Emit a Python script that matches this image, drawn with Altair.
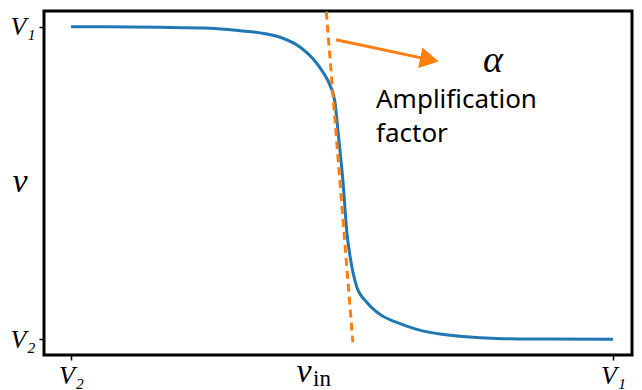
import altair as alt
import pandas as pd

# --- data (x: V2 -> 0, V1 -> 1; y: V2 -> 0, V1 -> 1) ---
curve_x = [0.0, 0.164, 0.256, 0.312, 0.349, 0.386, 0.423, 0.446, 0.465, 0.478,
           0.487, 0.493, 0.502, 0.509, 0.515, 0.527, 0.546, 0.570, 0.601, 0.638,
           0.699, 0.723, 0.786, 0.878, 1.0]
curve_y = [1.0, 0.998, 0.995, 0.987, 0.980, 0.966, 0.934, 0.898, 0.854, 0.812,
           0.758, 0.659, 0.500, 0.341, 0.264, 0.169, 0.118, 0.080, 0.054, 0.032,
           0.013, 0.009, 0.003, 0.001, 0.0]

tangent_x = [0.471, 0.520]
tangent_y = [1.048, -0.0096]

arrow_x = [0.489]
arrow_y = [0.958]
arrow_x2 = [0.6614]
arrow_y2 = [0.8946]
arrow_angle = [12]

alpha_x = [0.7786]
alpha_y = [0.8917]
alpha_text = ["α"]

note_x = [0.5627, 0.5627]
note_y = [0.7389, 0.6306]
note_text = ["Amplification", "factor"]

tick_values = [0, 1]

BLUE = "#1f77b4"
ORANGE = "#ff7f0e"
SERIF = "Liberation Serif"

xs = alt.Scale(domain=[-0.0498, 1.035], nice=False, zero=False)
ys = alt.Scale(domain=[-0.05, 1.05], nice=False, zero=False)

label_expr = "datum.value == 0 ? 'V₂' : 'V₁'"

x_axis = alt.Axis(values=tick_values, labelExpr=label_expr, title=None, grid=False,
                  domain=False, ticks=True, tickSize=5, tickWidth=1.5, tickColor="black",
                  labelFont=SERIF, labelFontStyle="italic", labelFontSize=26,
                  labelColor="black", labelPadding=2)
y_axis = alt.Axis(values=tick_values, labelExpr=label_expr, title=None, grid=False,
                  domain=False, ticks=True, tickSize=5, tickWidth=1.5, tickColor="black",
                  labelFont=SERIF, labelFontStyle="italic", labelFontSize=26,
                  labelColor="black", labelPadding=4, labelBaseline="middle")

curve_df = pd.DataFrame({"x": curve_x, "y": curve_y})
curve = alt.Chart(curve_df).mark_line(color=BLUE, strokeWidth=3, interpolate="monotone").encode(
    x=alt.X("x:Q", scale=xs, axis=x_axis),
    y=alt.Y("y:Q", scale=ys, axis=y_axis),
)

tan_df = pd.DataFrame({"x": tangent_x, "y": tangent_y})
tangent = alt.Chart(tan_df).mark_line(color=ORANGE, strokeWidth=3, strokeDash=[8, 5]).encode(
    x=alt.X("x:Q", scale=xs), y=alt.Y("y:Q", scale=ys)
)

arr_df = pd.DataFrame({"x": arrow_x, "y": arrow_y, "x2": arrow_x2, "y2": arrow_y2,
                       "angle": arrow_angle})
arrow_line = alt.Chart(arr_df).mark_rule(color=ORANGE, strokeWidth=3).encode(
    x=alt.X("x:Q", scale=xs), y=alt.Y("y:Q", scale=ys), x2="x2:Q", y2="y2:Q"
)
arrow_head = alt.Chart(arr_df).mark_point(
    shape="M-0.9,-1L0.9,0L-0.9,1Z", filled=True, color=ORANGE, opacity=1, size=440
).encode(
    x=alt.X("x2:Q", scale=xs), y=alt.Y("y2:Q", scale=ys),
    angle=alt.Angle("angle:Q", scale=None),
)

alpha_df = pd.DataFrame({"x": alpha_x, "y": alpha_y, "t": alpha_text})
alpha = alt.Chart(alpha_df).mark_text(
    font=SERIF, fontStyle="italic", fontSize=38, color="black", baseline="middle", align="center"
).encode(x=alt.X("x:Q", scale=xs), y=alt.Y("y:Q", scale=ys), text="t:N")

note_df = pd.DataFrame({"x": note_x, "y": note_y, "t": note_text})
note = alt.Chart(note_df).mark_text(
    font="Noto Sans", fontSize=26, color="black", baseline="alphabetic", align="left"
).encode(x=alt.X("x:Q", scale=xs), y=alt.Y("y:Q", scale=ys), text="t:N")

# axis titles (math-style)
ytitle = alt.Chart(pd.DataFrame({"t": ["v"]})).mark_text(
    font=SERIF, fontStyle="italic", fontSize=34, color="black", align="center", baseline="alphabetic"
).encode(x=alt.value(-24), y=alt.value(181), text="t:N")
xtitle_v = alt.Chart(pd.DataFrame({"t": ["v"]})).mark_text(
    font=SERIF, fontStyle="italic", fontSize=34, color="black", align="center", baseline="alphabetic"
).encode(x=alt.value(260), y=alt.value(371), text="t:N")
xtitle_in = alt.Chart(pd.DataFrame({"t": ["in"]})).mark_text(
    font=SERIF, fontSize=23, color="black", align="left", baseline="alphabetic"
).encode(x=alt.value(269), y=alt.value(375), text="t:N")

chart = alt.layer(
    curve, tangent, arrow_line, arrow_head, alpha, note, ytitle, xtitle_v, xtitle_in
).properties(
    width=588, height=344,
    autosize=alt.AutoSizeParams(type="none"),
    padding={"left": 36, "top": 3, "right": 2, "bottom": 40},
).configure_view(
    stroke="black", strokeWidth=3
)

chart.save("out.html", embed_options={"renderer": "svg", "actions": False})
